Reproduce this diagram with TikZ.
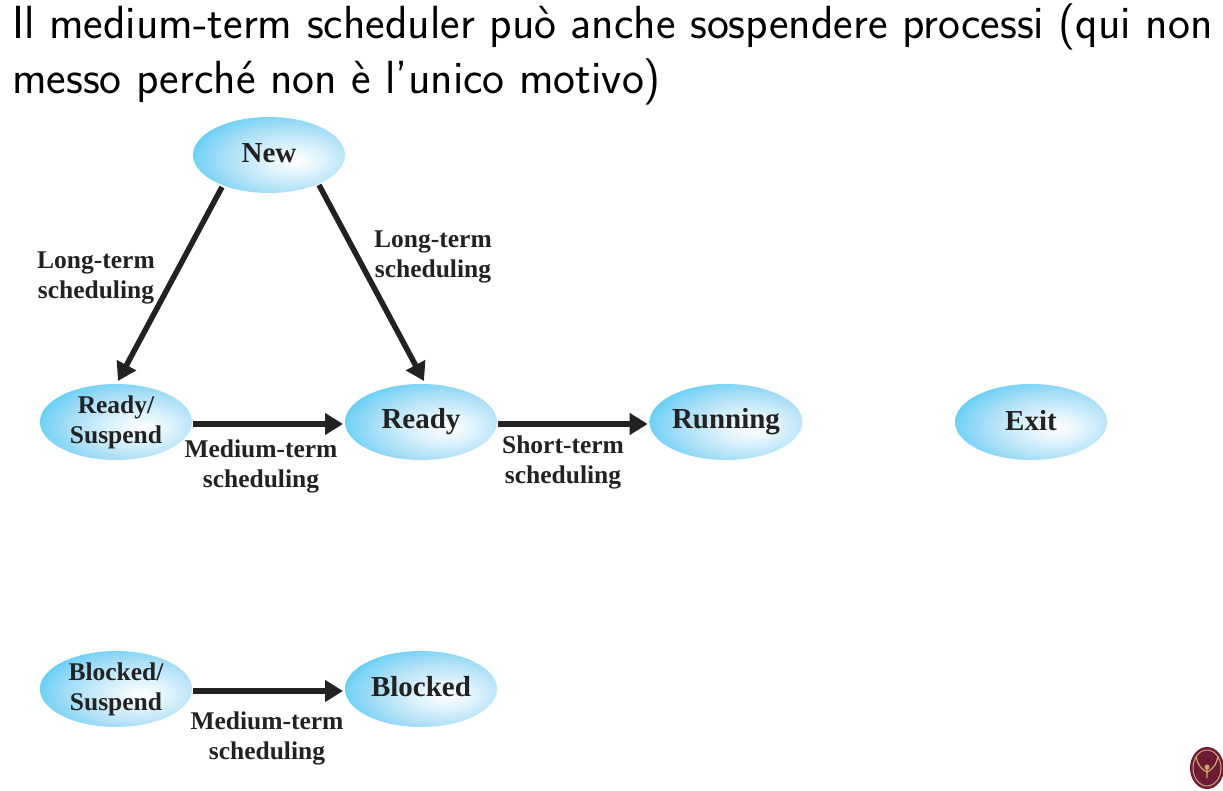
\documentclass[tikz,border=0pt]{standalone}
\usepackage{fontspec}
\newfontfamily\labelfont{Liberation Serif}
\usetikzlibrary{shapes.geometric,arrows.meta,calc}
\definecolor{inkdark}{HTML}{222222}
\definecolor{edgeblue}{HTML}{45C8F5}
\definecolor{midblue}{HTML}{A8DEF6}
\definecolor{maroon}{HTML}{6E1A35}
\definecolor{sealgold}{HTML}{C9A86A}
\pgfdeclareradialshading{bubble}{\pgfpoint{9bp}{-4bp}}{
  color(0bp)=(white);
  color(9bp)=(white!65!midblue);
  color(22bp)=(midblue);
  color(30bp)=(edgeblue!50!midblue);
  color(35bp)=(edgeblue);
  color(100bp)=(edgeblue)}
\tikzset{
  statebub/.style={ellipse,minimum width=152pt,minimum height=76pt,inner sep=0pt,outer sep=0pt,shading=bubble,
    text=inkdark,align=center},
  bigname/.style={font=\labelfont\bfseries\fontsize{29}{30}\selectfont},
  smallname/.style={font=\labelfont\bfseries\fontsize{25.5}{30}\selectfont},
  steplabel/.style={font=\labelfont\bfseries\fontsize{25.5}{30}\selectfont,text=inkdark,align=center,inner sep=0pt},
  titleline/.style={font=\sffamily\fontsize{46.5}{50}\selectfont,text=black,anchor=base west,inner sep=0pt},
  flow/.style={line width=5.5pt,draw=inkdark,-{Triangle[length=18pt,width=21pt,fill=inkdark]}}
}
\begin{document}
\begin{tikzpicture}[x=1pt,y=-1pt]
\useasboundingbox (0,0) rectangle (1223,791);
\node[titleline] (t1) at (12,39) {Il medium-term scheduler può anche sospendere processi (qui non};
\node[titleline] (t2) at (12,94) {messo perché non è l’unico motivo)};

\node[statebub,bigname] (new) at (269,155) {\raisebox{3pt}{New}};
\node[statebub,smallname] (rs) at (116,422) {Ready/\\Suspend};
\node[statebub,bigname] (ready) at (421,422) {Ready};
\node[statebub,bigname] (running) at (726,422) {Running};
\node[statebub,bigname] (exit) at (1031,422) {\raisebox{4pt}{Exit}};
\node[statebub,smallname] (bs) at (116,689) {Blocked/\\Suspend};
\node[statebub,bigname] (blocked) at (421,689) {\raisebox{6pt}{Blocked}};

\draw[flow] ($(new.center)+(-47,32)$) -- ($(rs.center)+(2,-41)$);
\draw[flow] ($(new.center)+(50,30)$) -- ($(ready.center)+(3,-41)$);
\draw[flow] ($(rs.east)+(1,2)$) -- ($(ready.west)+(-2,2)$);
\draw[flow] ($(ready.east)+(1,2)$) -- ($(running.west)+(-2,2)$);
\draw[flow] ($(bs.east)+(1,2)$) -- ($(blocked.west)+(-2,2)$);

\node[steplabel] (l1) at (96,278) {Long-term\\scheduling};
\node[steplabel] (l2) at (433,257) {Long-term\\scheduling};
\node[steplabel] (l3) at (261,466) {Medium-term\\scheduling};
\node[steplabel] (l4) at (563,462) {Short-term\\scheduling};
\node[steplabel] (l5) at (267,738) {Medium-term\\scheduling};

\fill[maroon] (1207,768) ellipse (17 and 21);
\draw[sealgold,line width=1pt] (1207,768) ellipse (14 and 18);
\draw[sealgold,line width=1.2pt] (1207,778) -- (1207,766) (1207,772) .. controls (1199,768) and (1197,762) .. (1196,756) (1207,772) .. controls (1215,768) and (1217,762) .. (1218,756);
\fill[sealgold] (1207,767) circle (2.5);
\end{tikzpicture}
\end{document}
